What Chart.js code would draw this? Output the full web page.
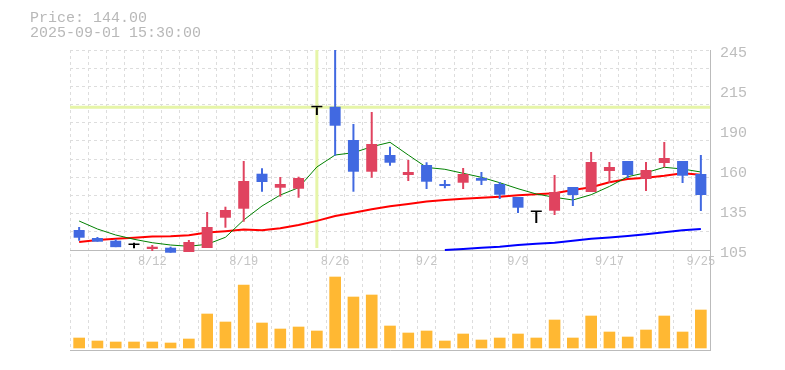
<!DOCTYPE html>
<html>
<head>
<meta charset="utf-8">
<script src="https://cdn.jsdelivr.net/npm/chart.js@4.4.1/dist/chart.umd.min.js"></script>
<style>
  html, body { margin: 0; padding: 0; background: #fff; }
</style>
</head>
<body>
<canvas id="chartCandle" width="785" height="370"></canvas>
<script>
// trading days shown on the chart
var dates = ['8/5', '8/6', '8/7', '8/8', '8/12', '8/13', '8/14', '8/15', '8/18', '8/19',
    '8/20', '8/21', '8/22', '8/25', '8/26', '8/27', '8/28', '8/29', '9/1', '9/2',
    '9/3', '9/4', '9/5', '9/8', '9/9', '9/10', '9/11', '9/12', '9/16', '9/17',
    '9/18', '9/19', '9/22', '9/24', '9/25'];

var openPrices = [119.0, 113.4, 111.5, 108.5, 105.7, 106.6, 103.6, 106.4, 127.6, 133.9,
    158.4, 148.6, 147.9, 204.9, 205.3, 182.0, 159.8, 171.5, 157.5, 164.5,
    151.2, 152.1, 155.4, 151.2, 142.1, 131.6, 132.5, 149.1, 145.6, 160.3,
    167.3, 154.7, 165.9, 167.3, 158.2];
var closePrices = [113.6, 110.8, 107.0, 108.5, 107.3, 103.1, 110.6, 121.1, 133.0, 153.3,
    152.6, 151.2, 155.4, 204.9, 192.0, 159.8, 179.2, 166.1, 159.6, 152.8,
    149.8, 158.2, 153.5, 143.7, 134.6, 131.6, 145.6, 143.5, 166.6, 163.1,
    157.5, 161.0, 169.4, 157.0, 143.5];
var highPrices = [121.1, 114.1, 112.5, 110.1, 108.5, 107.3, 112.0, 131.6, 135.3, 167.3,
    162.2, 156.1, 156.3, 204.9, 245.0, 193.2, 201.6, 177.3, 168.0, 166.4,
    154.0, 162.4, 159.6, 152.6, 142.1, 131.6, 157.5, 149.1, 173.6, 166.6,
    167.3, 166.6, 180.6, 167.3, 171.5];
var lowPrices = [111.5, 110.8, 107.0, 106.2, 104.3, 103.1, 103.6, 106.4, 120.6, 124.8,
    145.8, 142.3, 141.6, 199.5, 171.0, 145.8, 155.6, 164.0, 153.3, 147.7,
    148.2, 147.7, 150.5, 140.7, 130.9, 123.9, 129.5, 135.8, 145.6, 151.9,
    155.4, 146.3, 162.9, 151.9, 132.3];

// moving averages
var ma5 = [125.3, 119.7, 115.5, 112.5, 110.1, 108.5, 107.6, 109.0, 113.9, 126.0,
    135.8, 143.5, 148.6, 163.1, 171.5, 173.1, 177.3, 180.4, 171.5, 162.8,
    161.5, 158.7, 155.9, 152.1, 147.9, 144.2, 141.9, 140.0, 143.7, 149.5,
    156.3, 159.1, 162.9, 161.7, 159.6];
var ma25 = [110.6, 112.0, 112.9, 113.6, 114.4, 114.6, 115.3, 117.2, 118.2, 119.3,
    118.9, 120.2, 122.5, 125.4, 128.8, 131.1, 133.5, 135.6, 137.2, 138.9,
    140.0, 140.9, 141.6, 142.3, 143.3, 144.0, 144.7, 147.0, 148.9, 152.4,
    154.7, 155.6, 157.0, 158.8, 157.6];
var ma75 = [null, null, null, null, null, null, null, null, null, null,
    null, null, null, null, null, null, null, null, null, null,
    105.0, 105.7, 106.6, 107.3, 108.5, 109.4, 110.1, 111.5, 112.9, 113.8,
    114.8, 116.0, 117.4, 118.8, 119.7];

// volume (thousand shares)
var volumes = [10, 7, 6, 6, 6, 5, 9, 34, 26, 63,
    25, 19, 21, 17, 71, 51, 53, 22, 15, 17,
    7, 14, 8, 10, 14, 10, 28, 10, 32, 16,
    11, 18, 32, 16, 38];

var priceTicks = [245, 217, 189, 161, 133, 105];
var priceTickLabels = ['245', '215', '190', '160', '135', '105'];
var dateTickIndex = [4, 9, 14, 19, 24, 29, 34];
var infoLines = ['Price: 144.00', '2025-09-01 15:30:00'];
var crossIndex = 13;
var crossPrice = 205;

var UP = '#e0435f', DOWN = '#4169e1', FLAT = '#000000';

var candleColors = openPrices.map(function (o, i) {
    if (closePrices[i] > o) return UP;
    if (closePrices[i] < o) return DOWN;
    return FLAT;
});

var crosshair = {
    id: 'crosshair',
    beforeDatasetsDraw: function (chart) {
        var ctx = chart.ctx;
        var area = chart.chartArea;
        var px = chart.scales.x.getPixelForValue(crossIndex);
        var py = chart.scales.y.getPixelForValue(crossPrice);
        var pb = chart.scales.y.getPixelForValue(105);
        ctx.save();
        ctx.strokeStyle = '#e6f5a8';
        ctx.lineWidth = 3;
        ctx.beginPath();
        ctx.moveTo(area.left, py);
        ctx.lineTo(area.right, py);
        ctx.moveTo(px, area.top);
        ctx.lineTo(px, pb - 2);
        ctx.stroke();
        ctx.restore();
    }
};

Chart.defaults.font.family = 'Liberation Mono';

var ctx = document.getElementById('chartCandle');

var myChart = new Chart(ctx, {
    type: 'bar',
    data: {
        labels: dates,
        datasets: [{
            label: 'wick',
            data: lowPrices.map(function (l, i) { return [l, highPrices[i]]; }),
            backgroundColor: candleColors,
            barThickness: 2,
            inflateAmount: 0,
            grouped: false,
            yAxisID: 'y',
            order: 1
        }, {
            label: 'body',
            data: openPrices.map(function (o, i) { return [o, closePrices[i]]; }),
            backgroundColor: candleColors,
            barThickness: 11,
            minBarLength: 1.5,
            inflateAmount: 0,
            grouped: false,
            yAxisID: 'y',
            order: 0
        }, {
            type: 'line',
            label: 'MA5',
            data: ma5,
            borderColor: '#008000',
            borderWidth: 1,
            pointRadius: 0,
            tension: 0,
            yAxisID: 'y',
            order: 3
        }, {
            type: 'line',
            label: 'MA25',
            data: ma25,
            borderColor: '#ff0000',
            borderWidth: 2,
            pointRadius: 0,
            tension: 0,
            yAxisID: 'y',
            order: 4
        }, {
            type: 'line',
            label: 'MA75',
            data: ma75,
            borderColor: '#0000ff',
            borderWidth: 2,
            pointRadius: 0,
            tension: 0,
            yAxisID: 'y',
            order: 5
        }, {
            label: 'Volume',
            data: volumes,
            backgroundColor: '#ffb833',
            barThickness: 11,
            grouped: false,
            yAxisID: 'v',
            order: 6
        }]
    },
    options: {
        responsive: false,
        animation: false,
        devicePixelRatio: 1,
        layout: { padding: { left: 30, right: 0, top: 0, bottom: 20 } },
        plugins: {
            legend: { display: false },
            tooltip: { enabled: false },
            title: {
                display: true,
                text: infoLines,
                align: 'start',
                color: '#b8b8b8',
                font: { family: 'Liberation Mono', size: 15, weight: 'normal', lineHeight: 1 },
                padding: { top: 11, bottom: 9 }
            }
        },
        scales: {
            x: {
                type: 'category',
                position: { y: 105 },
                offset: true,
                grid: { color: '#dddddd', lineWidth: 1, offset: true, drawTicks: false },
                border: { display: true, color: '#bbbbbb', width: 1, dash: [3, 3] },
                ticks: {
                    autoSkip: false,
                    maxRotation: 0,
                    padding: 5,
                    color: '#c4c4c4',
                    font: { size: 12 },
                    callback: function (v, i) {
                        return dateTickIndex.indexOf(i) >= 0 ? dates[i] : '';
                    }
                }
            },
            xb: {
                type: 'category',
                position: 'bottom',
                offset: true,
                grid: { display: false, drawTicks: false },
                ticks: { display: false },
                border: { display: true, color: '#bbbbbb', width: 1 }
            },
            y: {
                position: 'left',
                min: 35,
                max: 245,
                afterBuildTicks: function (axis) {
                    var t = [];
                    for (var k = 0; k <= 11; k++) t.push({ value: 245 - k * 140 / 11 });
                    axis.ticks = t;
                },
                afterFit: function (axis) { axis.width = 40; },
                grid: { color: '#dddddd', lineWidth: 1, drawTicks: false },
                border: { display: false, dash: [3, 3] },
                ticks: { display: false }
            },
            yl: {
                position: 'right',
                min: 35,
                max: 245,
                afterBuildTicks: function (axis) {
                    axis.ticks = priceTicks.map(function (v) { return { value: v }; });
                },
                afterFit: function (axis) { axis.width = 75; },
                grid: { display: false, drawTicks: false },
                border: { display: true, color: '#bbbbbb', width: 1 },
                ticks: {
                    autoSkip: false,
                    padding: 10,
                    labelOffset: 3,
                    color: '#bdbdbd',
                    font: { size: 15 },
                    callback: function (v, i) { return priceTickLabels[i]; }
                }
            },
            v: {
                display: false,
                min: -2,
                max: 298
            }
        }
    },
    plugins: [crosshair]
});
</script>
</body>
</html>
